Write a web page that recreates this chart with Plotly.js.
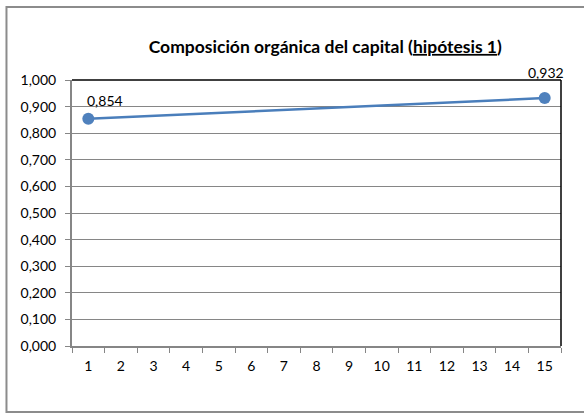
<!DOCTYPE html>
<html>
<head>
<meta charset="utf-8">
<script src="https://cdn.plot.ly/plotly-3.0.1.min.js"></script>
<style>html,body{margin:0;padding:0;background:#fff;}#chart{width:584px;height:414px;}</style>
</head>
<body>
<div id="chart"></div>
<script>
const categories = ['1','2','3','4','5','6','7','8','9','10','11','12','13','14','15'];
const pointCategories = ['1','15'];
const values = [0.854, 0.932];
const valueLabels = ['0,854', '0,932'];
const yTicks = [0,0.1,0.2,0.3,0.4,0.5,0.6,0.7,0.8,0.9,1.0];
const titleText = 'Composición orgánica del capital (<u>hipótesis 1</u>)';

const font = 'Lato, "Open Sans", "Liberation Sans", sans-serif';
const labelShifts = [[17, 18], [1, 26]];

const trace = {
  type: 'scatter',
  mode: 'lines+markers',
  x: pointCategories,
  y: values,
  line: {color: '#4a7ebb', width: 2.5},
  marker: {color: '#4f81bd', size: 12},
  cliponaxis: false,
  hoverinfo: 'skip'
};

const annotations = pointCategories.map((c, i) => ({
  x: categories.indexOf(c), y: values[i], xref: 'x', yref: 'y', text: valueLabels[i], showarrow: false,
  xanchor: 'center', yanchor: 'middle', xshift: labelShifts[i][0], yshift: labelShifts[i][1],
  font: {family: font, size: 14, color: '#000'}
}));

const layout = {
  width: 584, height: 414,
  margin: {l: 72, r: 23, t: 80, b: 68},
  paper_bgcolor: '#fff', plot_bgcolor: '#fff',
  separators: ',.',
  showlegend: false,
  font: {family: font, size: 14, color: '#000'},
  title: {text: '<b>' + titleText + '</b>', font: {family: font, size: 17.5, color: '#000'},
          x: 0.557, xanchor: 'center', y: 0.887, yanchor: 'middle'},
  xaxis: {
    type: 'category', categoryorder: 'array', categoryarray: categories,
    tickvals: categories, ticktext: categories,
    range: [-0.5, 14.5], tickson: 'boundaries',
    ticks: 'outside', ticklen: 5, tickcolor: '#868686', tickwidth: 1,
    ticklabelstandoff: 6,
    showline: true, linecolor: '#868686', linewidth: 2,
    showgrid: false, zeroline: false, fixedrange: true,
    tickfont: {family: font, size: 14, color: '#000'}
  },
  yaxis: {
    range: [0, 1], tickvals: yTicks, tickformat: '.3f',
    ticks: 'outside', ticklen: 5, tickcolor: '#868686', tickwidth: 1,
    ticklabelstandoff: 6,
    showline: true, linecolor: '#868686', linewidth: 2,
    showgrid: true, gridcolor: '#868686', gridwidth: 1,
    zeroline: false, fixedrange: true,
    tickfont: {family: font, size: 14, color: '#000'}
  },
  annotations: annotations,
  shapes: [
    {type: 'line', xref: 'paper', yref: 'paper', x0: 0, x1: 1, y0: 1, y1: 1, line: {color: '#000', width: 1.5}},
    {type: 'line', xref: 'paper', yref: 'paper', x0: 1, x1: 1, y0: 0, y1: 1, line: {color: '#000', width: 1.5}},
    {type: 'rect', xref: 'paper', yref: 'paper', x0: -0.134, x1: 1.07, y0: -0.248, y1: 1.274,
     line: {color: '#8c8c8c', width: 2}, fillcolor: 'rgba(0,0,0,0)', layer: 'below'}
  ]
};

Plotly.newPlot('chart', [trace], layout, {displayModeBar: false, staticPlot: true});
</script>
</body>
</html>
